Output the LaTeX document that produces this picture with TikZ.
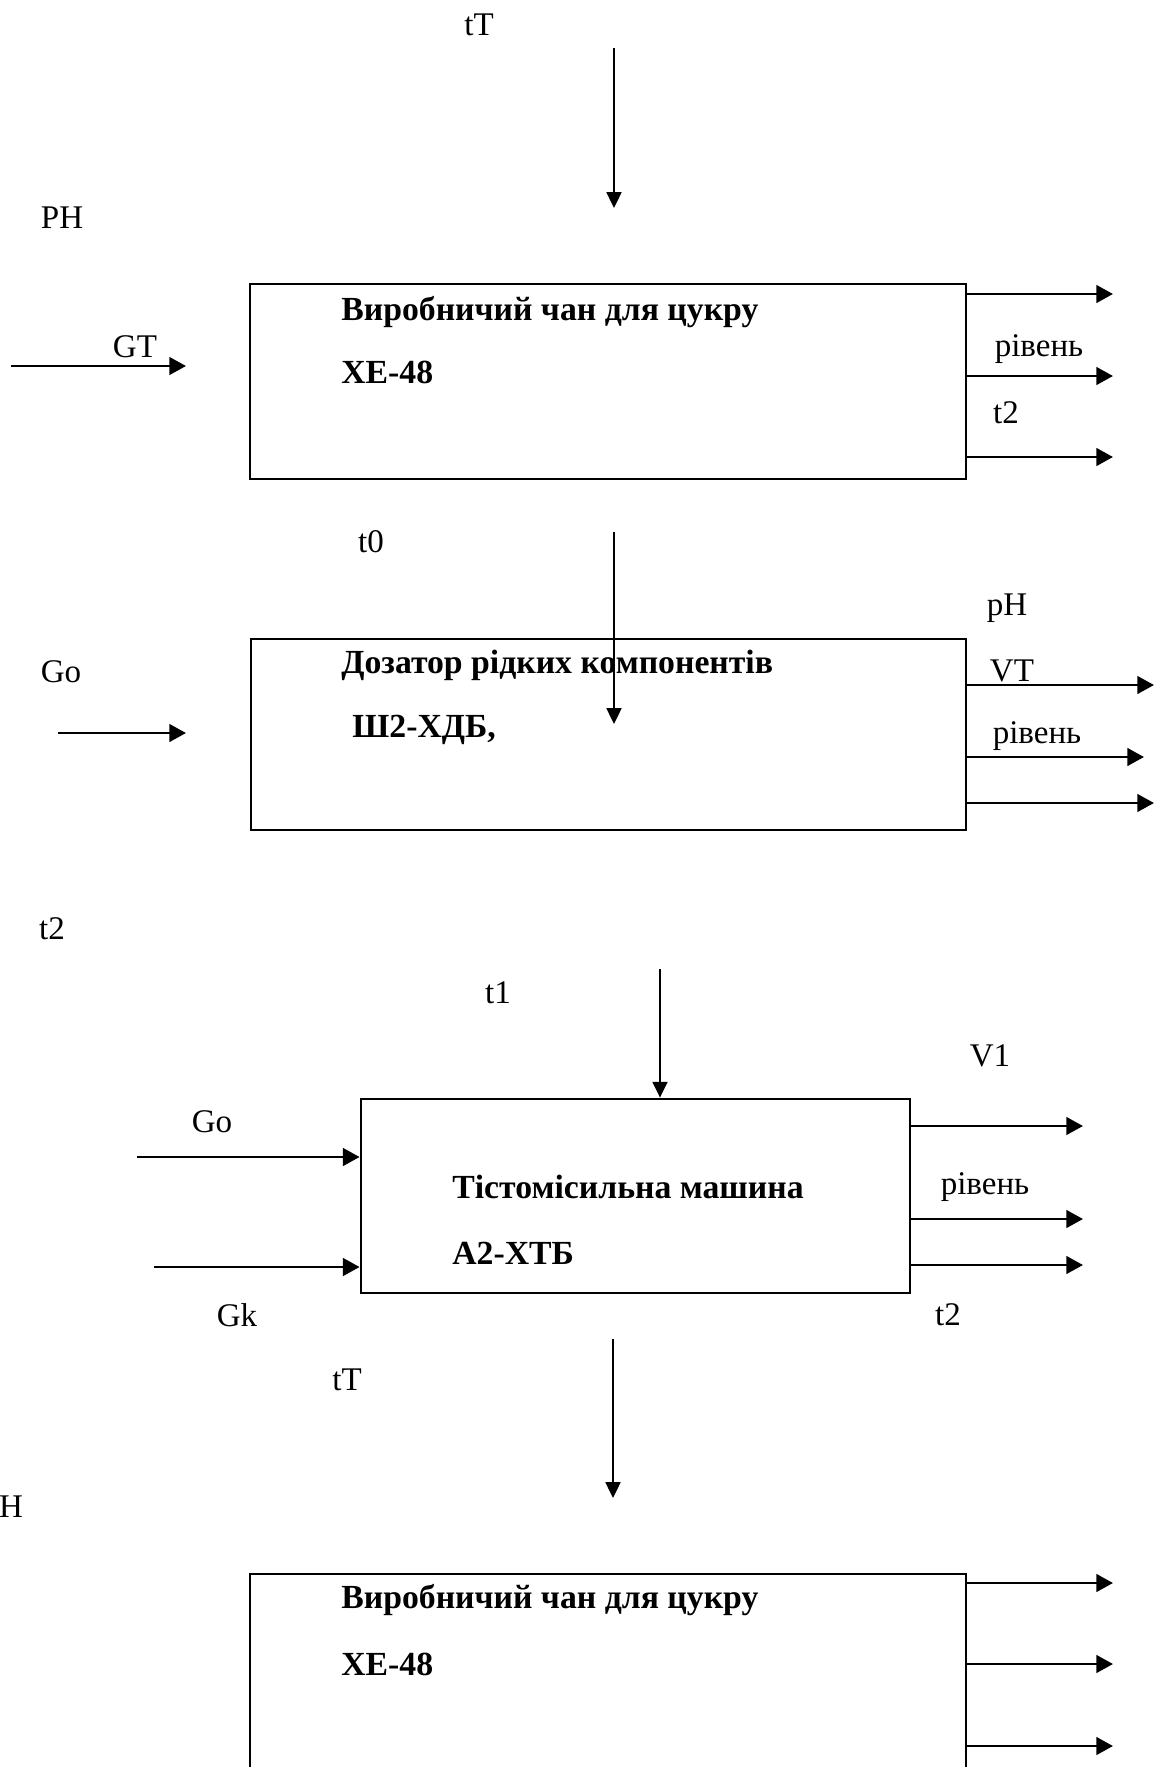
\documentclass[tikz,border=0pt]{standalone}
\usepackage{fontspec}
\setmainfont{Liberation Serif}
\usetikzlibrary{arrows.meta}
\tikzset{
  unitbox/.style={draw, line width=1.6pt, inner sep=0pt},
  lbl/.style={font=\fontsize{18.8}{22}\selectfont, inner sep=0pt},
  ttl/.style={font=\fontsize{19.2}{22}\selectfont\bfseries, inner sep=0pt, anchor=west},
  flow/.style={-{Triangle[length=9.5pt, width=10pt]}, line width=1.6pt},
  feed/.style={-{Triangle[length=9pt, width=8.5pt]}, line width=1.1pt}
}

\begin{document}
\begin{tikzpicture}[x=0.2mm, y=-0.2mm]
  \useasboundingbox (0,0) rectangle (1154,1767);
  % ---- block 1: sugar tank ----
  \node[unitbox, minimum width=143.2mm, minimum height=39mm] (tank) at (608,381.5) {};
  \node[ttl] (tankname) at (341,312) {Виробничий чан для цукру};
  \node[ttl] (tankcode) at (341,372) {ХЕ-48};
  \node[lbl] (tTa) at (479,25) {tT};
  \node[lbl] (PHa) at (62,218) {PH};
  \node[lbl] (GTa) at (135,347) {GT};
  \node[lbl] (lvla) at (1039,349) {рівень};
  \node[lbl] (t2a) at (1006,413) {t2};
  \coordinate (tTs) at (614,48);
  \coordinate (tTe) at (614,208);
  \draw[feed] (tTs) -- (tTe);
  \coordinate (GTs) at (11,366);
  \coordinate (GTe) at (186,366);
  \draw[flow] (GTs) -- (GTe);
  \coordinate (outa1) at (1113,294);
  \coordinate (outa2) at (1113,376);
  \coordinate (outa3) at (1113,457);
  \draw[flow] (tank.east |- outa1) -- (outa1);
  \draw[flow] (tank.east |- outa2) -- (outa2);
  \draw[flow] (tank.east |- outa3) -- (outa3);
  % ---- block 2: liquid dosing unit ----
  \node[unitbox, minimum width=143mm, minimum height=38.2mm] (doser) at (608.5,734.5) {};
  \node[ttl] (dosername) at (341,665) {Дозатор рідких компонентів};
  \node[ttl] (dosercode) at (352,730) {Ш2-ХДБ,};
  \node[lbl] (t0b) at (371,542) {t0};
  \node[lbl] (Gob) at (61,672) {Go};
  \node[lbl] (pHb) at (1007,608) {pH};
  \node[lbl] (VTb) at (1012,671) {VT};
  \node[lbl] (lvlb) at (1037,736) {рівень};
  \coordinate (t0s) at (614,532);
  \coordinate (t0e) at (614,724);
  \draw[feed] (t0s) -- (t0e);
  \coordinate (Gos) at (58,733);
  \coordinate (Goe) at (186,733);
  \draw[flow] (Gos) -- (Goe);
  \coordinate (outb1) at (1154,685);
  \coordinate (outb2) at (1144,757);
  \coordinate (outb3) at (1154,803);
  \draw[flow] (doser.east |- outb1) -- (outb1);
  \draw[flow] (doser.east |- outb2) -- (outb2);
  \draw[flow] (doser.east |- outb3) -- (outb3);
  \node[lbl] (t2left) at (52,929) {t2};
  % ---- block 3: dough mixer ----
  \node[unitbox, minimum width=109.8mm, minimum height=38.8mm] (mixer) at (635.5,1196) {};
  \node[ttl] (mixername) at (452,1187) {Тістомісильна машина};
  \node[ttl] (mixercode) at (452,1253) {А2-ХТБ};
  \node[lbl] (t1c) at (498,993) {t1};
  \node[lbl] (V1c) at (990,1056) {V1};
  \node[lbl] (Goc) at (212,1122) {Go};
  \node[lbl] (Gkc) at (237,1315) {Gk};
  \node[lbl] (lvlc) at (985,1187) {рівень};
  \node[lbl] (t2c) at (948,1315) {t2};
  \coordinate (t1s) at (660,969);
  \draw[feed] (t1s) -- (t1s |- mixer.north);
  \coordinate (Gocs) at (137,1157);
  \coordinate (Gkcs) at (154,1267);
  \draw[flow] (Gocs) -- (Gocs -| mixer.west);
  \draw[flow] (Gkcs) -- (Gkcs -| mixer.west);
  \coordinate (outc1) at (1083,1126);
  \coordinate (outc2) at (1083,1219);
  \coordinate (outc3) at (1083,1265);
  \draw[flow] (mixer.east |- outc1) -- (outc1);
  \draw[flow] (mixer.east |- outc2) -- (outc2);
  \draw[flow] (mixer.east |- outc3) -- (outc3);
  % ---- block 4: sugar tank again (cut by the page) ----
  \node[lbl] (tTd) at (347,1380) {tT};
  \node[lbl] (PHd) at (11,1507) {H};
  \coordinate (tTds) at (613,1339);
  \coordinate (tTde) at (613,1498);
  \draw[feed] (tTds) -- (tTde);
  \node[unitbox, minimum width=143.2mm, minimum height=51.2mm] (tankb) at (608,1702) {};
  \node[ttl] (tankbname) at (341,1600) {Виробничий чан для цукру};
  \node[ttl] (tankbcode) at (341,1664) {ХЕ-48};
  \coordinate (outd1) at (1113,1583);
  \coordinate (outd2) at (1113,1664);
  \coordinate (outd3) at (1113,1746);
  \draw[flow] (tankb.east |- outd1) -- (outd1);
  \draw[flow] (tankb.east |- outd2) -- (outd2);
  \draw[flow] (tankb.east |- outd3) -- (outd3);
\end{tikzpicture}
\end{document}
